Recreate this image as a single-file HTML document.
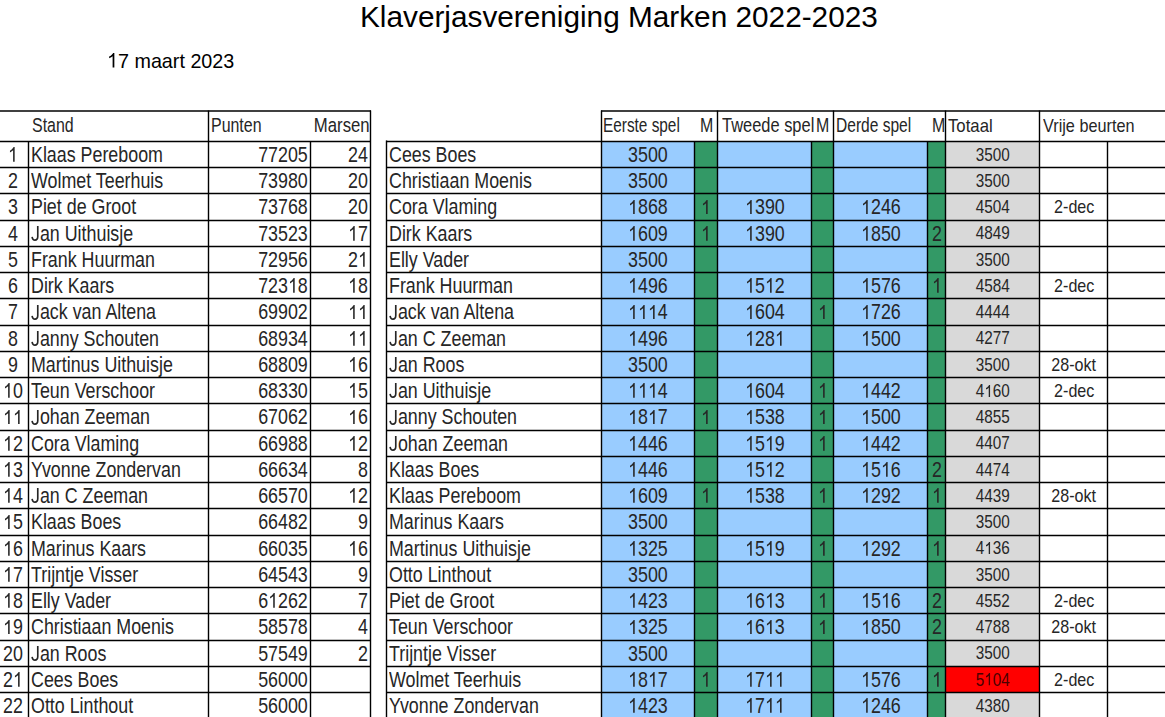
<!DOCTYPE html>
<html><head><meta charset="utf-8"><style>
html,body{margin:0;padding:0;background:#fff;width:1165px;height:717px;overflow:hidden;position:relative}
body div,body span{position:absolute}
.t,.c{font-family:"Liberation Sans",sans-serif;color:#262626;white-space:nowrap}
.c{text-align:center}
.c span{position:static!important}
.o{display:inline-block;width:0.5562em;height:0.688em;vertical-align:baseline;fill:currentColor}
.j{display:inline-block;width:0.5em;height:0.688em;vertical-align:baseline;fill:currentColor;overflow:visible}
</style></head><body>
<svg width="1165" height="717" viewBox="0 0 1165 717" style="position:absolute;left:0;top:0"><rect x="601.50" y="141.50" width="93.00" height="578.50" fill="#99CCFF"/><rect x="694.50" y="141.50" width="23.00" height="578.50" fill="#339966"/><rect x="717.50" y="141.50" width="94.00" height="578.50" fill="#99CCFF"/><rect x="811.50" y="141.50" width="22.00" height="578.50" fill="#339966"/><rect x="833.50" y="141.50" width="94.00" height="578.50" fill="#99CCFF"/><rect x="927.50" y="141.50" width="18.00" height="578.50" fill="#339966"/><rect x="945.50" y="141.50" width="94.00" height="578.50" fill="#D9D9D9"/><rect x="945.50" y="666.50" width="94.00" height="26.00" fill="#FF0000"/><g stroke="#000" stroke-width="1.4" fill="none"><path d="M0.00 111.00H371.00"/><path d="M0.00 141.50H371.00"/><path d="M0.00 167.50H371.00"/><path d="M0.00 193.50H371.00"/><path d="M0.00 220.50H371.00"/><path d="M0.00 246.50H371.00"/><path d="M0.00 272.50H371.00"/><path d="M0.00 298.50H371.00"/><path d="M0.00 325.50H371.00"/><path d="M0.00 351.50H371.00"/><path d="M0.00 377.50H371.00"/><path d="M0.00 403.50H371.00"/><path d="M0.00 430.50H371.00"/><path d="M0.00 456.50H371.00"/><path d="M0.00 482.50H371.00"/><path d="M0.00 508.50H371.00"/><path d="M0.00 535.50H371.00"/><path d="M0.00 561.50H371.00"/><path d="M0.00 587.50H371.00"/><path d="M0.00 613.50H371.00"/><path d="M0.00 640.50H371.00"/><path d="M0.00 666.50H371.00"/><path d="M0.00 692.50H371.00"/><path d="M0.00 718.50H371.00"/><path d="M208.50 110.50V720.00"/><path d="M370.50 110.50V720.00"/><path d="M28.50 140.90V720.00"/><path d="M310.50 140.90V720.00"/><path d="M386.00 141.50H601.50"/><path d="M386.00 167.50H601.50"/><path d="M386.00 193.50H601.50"/><path d="M386.00 220.50H601.50"/><path d="M386.00 246.50H601.50"/><path d="M386.00 272.50H601.50"/><path d="M386.00 298.50H601.50"/><path d="M386.00 325.50H601.50"/><path d="M386.00 351.50H601.50"/><path d="M386.00 377.50H601.50"/><path d="M386.00 403.50H601.50"/><path d="M386.00 430.50H601.50"/><path d="M386.00 456.50H601.50"/><path d="M386.00 482.50H601.50"/><path d="M386.00 508.50H601.50"/><path d="M386.00 535.50H601.50"/><path d="M386.00 561.50H601.50"/><path d="M386.00 587.50H601.50"/><path d="M386.00 613.50H601.50"/><path d="M386.00 640.50H601.50"/><path d="M386.00 666.50H601.50"/><path d="M386.00 692.50H601.50"/><path d="M386.00 718.50H601.50"/><path d="M386.50 140.40V720.00"/><path d="M601.00 111.00H1166.00"/><path d="M601.50 141.50H1166.00"/><path d="M601.50 167.50H1166.00"/><path d="M601.50 193.50H1166.00"/><path d="M601.50 220.50H1166.00"/><path d="M601.50 246.50H1166.00"/><path d="M601.50 272.50H1166.00"/><path d="M601.50 298.50H1166.00"/><path d="M601.50 325.50H1166.00"/><path d="M601.50 351.50H1166.00"/><path d="M601.50 377.50H1166.00"/><path d="M601.50 403.50H1166.00"/><path d="M601.50 430.50H1166.00"/><path d="M601.50 456.50H1166.00"/><path d="M601.50 482.50H1166.00"/><path d="M601.50 508.50H1166.00"/><path d="M601.50 535.50H1166.00"/><path d="M601.50 561.50H1166.00"/><path d="M601.50 587.50H1166.00"/><path d="M601.50 613.50H1166.00"/><path d="M601.50 640.50H1166.00"/><path d="M601.50 666.50H1166.00"/><path d="M601.50 692.50H1166.00"/><path d="M601.50 718.50H1166.00"/><path d="M601.50 110.50V720.00"/><path d="M717.50 110.50V720.00"/><path d="M833.50 110.50V720.00"/><path d="M945.50 110.50V720.00"/><path d="M1039.50 110.50V720.00"/><path d="M694.50 140.90V720.00"/><path d="M811.50 140.90V720.00"/><path d="M927.50 140.90V720.00"/><path d="M1107.50 140.90V720.00"/></g></svg>
<span class="t" style="left:360.0px;top:-0.45px;font-size:30.0px;line-height:34.50px;transform:scaleX(0.992);transform-origin:0 0;color:#000">Klaverjasvereniging Marken 2022-2023</span>
<span class="t" style="left:107.0px;top:48.84px;font-size:21.0px;line-height:24.15px;transform:scaleX(0.94);transform-origin:0 0;color:#000"><svg class="o" viewBox="0 0 1139 1409"><path d="M763 1409H583V311Q470 410 223 519V352Q400 270 520 140Q590 60 644 0H763Z"/></svg>7 maart 2023</span>
<span class="t" style="left:31.5px;top:114.07px;font-size:19.7px;line-height:22.65px;transform:scaleX(0.81);transform-origin:0 0">Stand</span>
<span class="t" style="left:211.1px;top:114.07px;font-size:19.7px;line-height:22.65px;transform:scaleX(0.81);transform-origin:0 0">Punten</span>
<span class="t" style="right:795.8px;top:114.07px;font-size:19.7px;line-height:22.65px;transform:scaleX(0.85);transform-origin:100% 0">Marsen</span>
<span class="t" style="left:603.2px;top:114.07px;font-size:19.7px;line-height:22.65px;transform:scaleX(0.78);transform-origin:0 0">Eerste spel</span>
<span class="t" style="right:451.70000000000005px;top:114.07px;font-size:19.7px;line-height:22.65px;transform:scaleX(0.81);transform-origin:100% 0">M</span>
<span class="t" style="left:721.6px;top:114.07px;font-size:19.7px;line-height:22.65px;transform:scaleX(0.835);transform-origin:0 0">Tweede spel</span>
<span class="t" style="right:335.70000000000005px;top:114.07px;font-size:19.7px;line-height:22.65px;transform:scaleX(0.81);transform-origin:100% 0">M</span>
<span class="t" style="left:836.3px;top:114.07px;font-size:19.7px;line-height:22.65px;transform:scaleX(0.79);transform-origin:0 0">Derde spel</span>
<span class="t" style="right:219.70000000000005px;top:114.07px;font-size:19.7px;line-height:22.65px;transform:scaleX(0.81);transform-origin:100% 0">M</span>
<span class="t" style="left:948.4px;top:116.33px;font-size:18.2px;line-height:20.93px;transform:scaleX(0.92);transform-origin:0 0">Totaal</span>
<span class="t" style="left:1043.0px;top:116.33px;font-size:18.2px;line-height:20.93px;transform:scaleX(0.893);transform-origin:0 0">Vrije beurten</span>
<div class="c" style="left:0px;top:142.94px;width:25px;font-size:21.5px;line-height:24.72px"><span style="display:inline-block;transform:scaleX(0.83)"><svg class="o" viewBox="0 0 1139 1409"><path d="M763 1409H583V311Q470 410 223 519V352Q400 270 520 140Q590 60 644 0H763Z"/></svg></span></div>
<span class="t" style="left:30.8px;top:142.94px;font-size:21.5px;line-height:24.72px;transform:scaleX(0.83);transform-origin:0 0">Klaas Pereboom</span>
<span class="t" style="right:857.0px;top:142.94px;font-size:21.5px;line-height:24.72px;transform:scaleX(0.83);transform-origin:100% 0">77205</span>
<span class="t" style="right:797.2px;top:142.94px;font-size:21.5px;line-height:24.72px;transform:scaleX(0.83);transform-origin:100% 0">24</span>
<div class="c" style="left:0px;top:169.19px;width:25px;font-size:21.5px;line-height:24.72px"><span style="display:inline-block;transform:scaleX(0.83)">2</span></div>
<span class="t" style="left:30.8px;top:169.19px;font-size:21.5px;line-height:24.72px;transform:scaleX(0.83);transform-origin:0 0">Wolmet Teerhuis</span>
<span class="t" style="right:857.0px;top:169.19px;font-size:21.5px;line-height:24.72px;transform:scaleX(0.83);transform-origin:100% 0">73980</span>
<span class="t" style="right:797.2px;top:169.19px;font-size:21.5px;line-height:24.72px;transform:scaleX(0.83);transform-origin:100% 0">20</span>
<div class="c" style="left:0px;top:195.44px;width:25px;font-size:21.5px;line-height:24.72px"><span style="display:inline-block;transform:scaleX(0.83)">3</span></div>
<span class="t" style="left:30.8px;top:195.44px;font-size:21.5px;line-height:24.72px;transform:scaleX(0.83);transform-origin:0 0">Piet de Groot</span>
<span class="t" style="right:857.0px;top:195.44px;font-size:21.5px;line-height:24.72px;transform:scaleX(0.83);transform-origin:100% 0">73768</span>
<span class="t" style="right:797.2px;top:195.44px;font-size:21.5px;line-height:24.72px;transform:scaleX(0.83);transform-origin:100% 0">20</span>
<div class="c" style="left:0px;top:221.69px;width:25px;font-size:21.5px;line-height:24.72px"><span style="display:inline-block;transform:scaleX(0.83)">4</span></div>
<span class="t" style="left:30.8px;top:221.69px;font-size:21.5px;line-height:24.72px;transform:scaleX(0.83);transform-origin:0 0"><svg class="j" viewBox="0 0 1024 1409"><path d="M457 1429Q99 1429 32 1059L219 1028Q237 1144 300 1209Q363 1274 458 1274Q562 1274 622 1202.5Q682 1131 682 993L682 0L872 0L872 989Q872 1194 761 1311.5Q650 1429 457 1429Z"/></svg>an Uithuisje</span>
<span class="t" style="right:857.0px;top:221.69px;font-size:21.5px;line-height:24.72px;transform:scaleX(0.83);transform-origin:100% 0">73523</span>
<span class="t" style="right:797.2px;top:221.69px;font-size:21.5px;line-height:24.72px;transform:scaleX(0.83);transform-origin:100% 0"><svg class="o" viewBox="0 0 1139 1409"><path d="M763 1409H583V311Q470 410 223 519V352Q400 270 520 140Q590 60 644 0H763Z"/></svg>7</span>
<div class="c" style="left:0px;top:247.94px;width:25px;font-size:21.5px;line-height:24.72px"><span style="display:inline-block;transform:scaleX(0.83)">5</span></div>
<span class="t" style="left:30.8px;top:247.94px;font-size:21.5px;line-height:24.72px;transform:scaleX(0.83);transform-origin:0 0">Frank Huurman</span>
<span class="t" style="right:857.0px;top:247.94px;font-size:21.5px;line-height:24.72px;transform:scaleX(0.83);transform-origin:100% 0">72956</span>
<span class="t" style="right:797.2px;top:247.94px;font-size:21.5px;line-height:24.72px;transform:scaleX(0.83);transform-origin:100% 0">2<svg class="o" viewBox="0 0 1139 1409"><path d="M763 1409H583V311Q470 410 223 519V352Q400 270 520 140Q590 60 644 0H763Z"/></svg></span>
<div class="c" style="left:0px;top:274.19px;width:25px;font-size:21.5px;line-height:24.72px"><span style="display:inline-block;transform:scaleX(0.83)">6</span></div>
<span class="t" style="left:30.8px;top:274.19px;font-size:21.5px;line-height:24.72px;transform:scaleX(0.83);transform-origin:0 0">Dirk Kaars</span>
<span class="t" style="right:857.0px;top:274.19px;font-size:21.5px;line-height:24.72px;transform:scaleX(0.83);transform-origin:100% 0">723<svg class="o" viewBox="0 0 1139 1409"><path d="M763 1409H583V311Q470 410 223 519V352Q400 270 520 140Q590 60 644 0H763Z"/></svg>8</span>
<span class="t" style="right:797.2px;top:274.19px;font-size:21.5px;line-height:24.72px;transform:scaleX(0.83);transform-origin:100% 0"><svg class="o" viewBox="0 0 1139 1409"><path d="M763 1409H583V311Q470 410 223 519V352Q400 270 520 140Q590 60 644 0H763Z"/></svg>8</span>
<div class="c" style="left:0px;top:300.44px;width:25px;font-size:21.5px;line-height:24.72px"><span style="display:inline-block;transform:scaleX(0.83)">7</span></div>
<span class="t" style="left:30.8px;top:300.44px;font-size:21.5px;line-height:24.72px;transform:scaleX(0.83);transform-origin:0 0"><svg class="j" viewBox="0 0 1024 1409"><path d="M457 1429Q99 1429 32 1059L219 1028Q237 1144 300 1209Q363 1274 458 1274Q562 1274 622 1202.5Q682 1131 682 993L682 0L872 0L872 989Q872 1194 761 1311.5Q650 1429 457 1429Z"/></svg>ack van Altena</span>
<span class="t" style="right:857.0px;top:300.44px;font-size:21.5px;line-height:24.72px;transform:scaleX(0.83);transform-origin:100% 0">69902</span>
<span class="t" style="right:797.2px;top:300.44px;font-size:21.5px;line-height:24.72px;transform:scaleX(0.83);transform-origin:100% 0"><svg class="o" viewBox="0 0 1139 1409"><path d="M763 1409H583V311Q470 410 223 519V352Q400 270 520 140Q590 60 644 0H763Z"/></svg><svg class="o" viewBox="0 0 1139 1409"><path d="M763 1409H583V311Q470 410 223 519V352Q400 270 520 140Q590 60 644 0H763Z"/></svg></span>
<div class="c" style="left:0px;top:326.69px;width:25px;font-size:21.5px;line-height:24.72px"><span style="display:inline-block;transform:scaleX(0.83)">8</span></div>
<span class="t" style="left:30.8px;top:326.69px;font-size:21.5px;line-height:24.72px;transform:scaleX(0.83);transform-origin:0 0"><svg class="j" viewBox="0 0 1024 1409"><path d="M457 1429Q99 1429 32 1059L219 1028Q237 1144 300 1209Q363 1274 458 1274Q562 1274 622 1202.5Q682 1131 682 993L682 0L872 0L872 989Q872 1194 761 1311.5Q650 1429 457 1429Z"/></svg>anny Schouten</span>
<span class="t" style="right:857.0px;top:326.69px;font-size:21.5px;line-height:24.72px;transform:scaleX(0.83);transform-origin:100% 0">68934</span>
<span class="t" style="right:797.2px;top:326.69px;font-size:21.5px;line-height:24.72px;transform:scaleX(0.83);transform-origin:100% 0"><svg class="o" viewBox="0 0 1139 1409"><path d="M763 1409H583V311Q470 410 223 519V352Q400 270 520 140Q590 60 644 0H763Z"/></svg><svg class="o" viewBox="0 0 1139 1409"><path d="M763 1409H583V311Q470 410 223 519V352Q400 270 520 140Q590 60 644 0H763Z"/></svg></span>
<div class="c" style="left:0px;top:352.94px;width:25px;font-size:21.5px;line-height:24.72px"><span style="display:inline-block;transform:scaleX(0.83)">9</span></div>
<span class="t" style="left:30.8px;top:352.94px;font-size:21.5px;line-height:24.72px;transform:scaleX(0.83);transform-origin:0 0">Martinus Uithuisje</span>
<span class="t" style="right:857.0px;top:352.94px;font-size:21.5px;line-height:24.72px;transform:scaleX(0.83);transform-origin:100% 0">68809</span>
<span class="t" style="right:797.2px;top:352.94px;font-size:21.5px;line-height:24.72px;transform:scaleX(0.83);transform-origin:100% 0"><svg class="o" viewBox="0 0 1139 1409"><path d="M763 1409H583V311Q470 410 223 519V352Q400 270 520 140Q590 60 644 0H763Z"/></svg>6</span>
<div class="c" style="left:0px;top:379.19px;width:25px;font-size:21.5px;line-height:24.72px"><span style="display:inline-block;transform:scaleX(0.83)"><svg class="o" viewBox="0 0 1139 1409"><path d="M763 1409H583V311Q470 410 223 519V352Q400 270 520 140Q590 60 644 0H763Z"/></svg>0</span></div>
<span class="t" style="left:30.8px;top:379.19px;font-size:21.5px;line-height:24.72px;transform:scaleX(0.83);transform-origin:0 0">Teun Verschoor</span>
<span class="t" style="right:857.0px;top:379.19px;font-size:21.5px;line-height:24.72px;transform:scaleX(0.83);transform-origin:100% 0">68330</span>
<span class="t" style="right:797.2px;top:379.19px;font-size:21.5px;line-height:24.72px;transform:scaleX(0.83);transform-origin:100% 0"><svg class="o" viewBox="0 0 1139 1409"><path d="M763 1409H583V311Q470 410 223 519V352Q400 270 520 140Q590 60 644 0H763Z"/></svg>5</span>
<div class="c" style="left:0px;top:405.44px;width:25px;font-size:21.5px;line-height:24.72px"><span style="display:inline-block;transform:scaleX(0.83)"><svg class="o" viewBox="0 0 1139 1409"><path d="M763 1409H583V311Q470 410 223 519V352Q400 270 520 140Q590 60 644 0H763Z"/></svg><svg class="o" viewBox="0 0 1139 1409"><path d="M763 1409H583V311Q470 410 223 519V352Q400 270 520 140Q590 60 644 0H763Z"/></svg></span></div>
<span class="t" style="left:30.8px;top:405.44px;font-size:21.5px;line-height:24.72px;transform:scaleX(0.83);transform-origin:0 0"><svg class="j" viewBox="0 0 1024 1409"><path d="M457 1429Q99 1429 32 1059L219 1028Q237 1144 300 1209Q363 1274 458 1274Q562 1274 622 1202.5Q682 1131 682 993L682 0L872 0L872 989Q872 1194 761 1311.5Q650 1429 457 1429Z"/></svg>ohan Zeeman</span>
<span class="t" style="right:857.0px;top:405.44px;font-size:21.5px;line-height:24.72px;transform:scaleX(0.83);transform-origin:100% 0">67062</span>
<span class="t" style="right:797.2px;top:405.44px;font-size:21.5px;line-height:24.72px;transform:scaleX(0.83);transform-origin:100% 0"><svg class="o" viewBox="0 0 1139 1409"><path d="M763 1409H583V311Q470 410 223 519V352Q400 270 520 140Q590 60 644 0H763Z"/></svg>6</span>
<div class="c" style="left:0px;top:431.69px;width:25px;font-size:21.5px;line-height:24.72px"><span style="display:inline-block;transform:scaleX(0.83)"><svg class="o" viewBox="0 0 1139 1409"><path d="M763 1409H583V311Q470 410 223 519V352Q400 270 520 140Q590 60 644 0H763Z"/></svg>2</span></div>
<span class="t" style="left:30.8px;top:431.69px;font-size:21.5px;line-height:24.72px;transform:scaleX(0.83);transform-origin:0 0">Cora Vlaming</span>
<span class="t" style="right:857.0px;top:431.69px;font-size:21.5px;line-height:24.72px;transform:scaleX(0.83);transform-origin:100% 0">66988</span>
<span class="t" style="right:797.2px;top:431.69px;font-size:21.5px;line-height:24.72px;transform:scaleX(0.83);transform-origin:100% 0"><svg class="o" viewBox="0 0 1139 1409"><path d="M763 1409H583V311Q470 410 223 519V352Q400 270 520 140Q590 60 644 0H763Z"/></svg>2</span>
<div class="c" style="left:0px;top:457.94px;width:25px;font-size:21.5px;line-height:24.72px"><span style="display:inline-block;transform:scaleX(0.83)"><svg class="o" viewBox="0 0 1139 1409"><path d="M763 1409H583V311Q470 410 223 519V352Q400 270 520 140Q590 60 644 0H763Z"/></svg>3</span></div>
<span class="t" style="left:30.8px;top:457.94px;font-size:21.5px;line-height:24.72px;transform:scaleX(0.83);transform-origin:0 0">Yvonne Zondervan</span>
<span class="t" style="right:857.0px;top:457.94px;font-size:21.5px;line-height:24.72px;transform:scaleX(0.83);transform-origin:100% 0">66634</span>
<span class="t" style="right:797.2px;top:457.94px;font-size:21.5px;line-height:24.72px;transform:scaleX(0.83);transform-origin:100% 0">8</span>
<div class="c" style="left:0px;top:484.19px;width:25px;font-size:21.5px;line-height:24.72px"><span style="display:inline-block;transform:scaleX(0.83)"><svg class="o" viewBox="0 0 1139 1409"><path d="M763 1409H583V311Q470 410 223 519V352Q400 270 520 140Q590 60 644 0H763Z"/></svg>4</span></div>
<span class="t" style="left:30.8px;top:484.19px;font-size:21.5px;line-height:24.72px;transform:scaleX(0.83);transform-origin:0 0"><svg class="j" viewBox="0 0 1024 1409"><path d="M457 1429Q99 1429 32 1059L219 1028Q237 1144 300 1209Q363 1274 458 1274Q562 1274 622 1202.5Q682 1131 682 993L682 0L872 0L872 989Q872 1194 761 1311.5Q650 1429 457 1429Z"/></svg>an C Zeeman</span>
<span class="t" style="right:857.0px;top:484.19px;font-size:21.5px;line-height:24.72px;transform:scaleX(0.83);transform-origin:100% 0">66570</span>
<span class="t" style="right:797.2px;top:484.19px;font-size:21.5px;line-height:24.72px;transform:scaleX(0.83);transform-origin:100% 0"><svg class="o" viewBox="0 0 1139 1409"><path d="M763 1409H583V311Q470 410 223 519V352Q400 270 520 140Q590 60 644 0H763Z"/></svg>2</span>
<div class="c" style="left:0px;top:510.44px;width:25px;font-size:21.5px;line-height:24.72px"><span style="display:inline-block;transform:scaleX(0.83)"><svg class="o" viewBox="0 0 1139 1409"><path d="M763 1409H583V311Q470 410 223 519V352Q400 270 520 140Q590 60 644 0H763Z"/></svg>5</span></div>
<span class="t" style="left:30.8px;top:510.44px;font-size:21.5px;line-height:24.72px;transform:scaleX(0.83);transform-origin:0 0">Klaas Boes</span>
<span class="t" style="right:857.0px;top:510.44px;font-size:21.5px;line-height:24.72px;transform:scaleX(0.83);transform-origin:100% 0">66482</span>
<span class="t" style="right:797.2px;top:510.44px;font-size:21.5px;line-height:24.72px;transform:scaleX(0.83);transform-origin:100% 0">9</span>
<div class="c" style="left:0px;top:536.69px;width:25px;font-size:21.5px;line-height:24.72px"><span style="display:inline-block;transform:scaleX(0.83)"><svg class="o" viewBox="0 0 1139 1409"><path d="M763 1409H583V311Q470 410 223 519V352Q400 270 520 140Q590 60 644 0H763Z"/></svg>6</span></div>
<span class="t" style="left:30.8px;top:536.69px;font-size:21.5px;line-height:24.72px;transform:scaleX(0.83);transform-origin:0 0">Marinus Kaars</span>
<span class="t" style="right:857.0px;top:536.69px;font-size:21.5px;line-height:24.72px;transform:scaleX(0.83);transform-origin:100% 0">66035</span>
<span class="t" style="right:797.2px;top:536.69px;font-size:21.5px;line-height:24.72px;transform:scaleX(0.83);transform-origin:100% 0"><svg class="o" viewBox="0 0 1139 1409"><path d="M763 1409H583V311Q470 410 223 519V352Q400 270 520 140Q590 60 644 0H763Z"/></svg>6</span>
<div class="c" style="left:0px;top:562.94px;width:25px;font-size:21.5px;line-height:24.72px"><span style="display:inline-block;transform:scaleX(0.83)"><svg class="o" viewBox="0 0 1139 1409"><path d="M763 1409H583V311Q470 410 223 519V352Q400 270 520 140Q590 60 644 0H763Z"/></svg>7</span></div>
<span class="t" style="left:30.8px;top:562.94px;font-size:21.5px;line-height:24.72px;transform:scaleX(0.83);transform-origin:0 0">Trijntje Visser</span>
<span class="t" style="right:857.0px;top:562.94px;font-size:21.5px;line-height:24.72px;transform:scaleX(0.83);transform-origin:100% 0">64543</span>
<span class="t" style="right:797.2px;top:562.94px;font-size:21.5px;line-height:24.72px;transform:scaleX(0.83);transform-origin:100% 0">9</span>
<div class="c" style="left:0px;top:589.19px;width:25px;font-size:21.5px;line-height:24.72px"><span style="display:inline-block;transform:scaleX(0.83)"><svg class="o" viewBox="0 0 1139 1409"><path d="M763 1409H583V311Q470 410 223 519V352Q400 270 520 140Q590 60 644 0H763Z"/></svg>8</span></div>
<span class="t" style="left:30.8px;top:589.19px;font-size:21.5px;line-height:24.72px;transform:scaleX(0.83);transform-origin:0 0">Elly Vader</span>
<span class="t" style="right:857.0px;top:589.19px;font-size:21.5px;line-height:24.72px;transform:scaleX(0.83);transform-origin:100% 0">6<svg class="o" viewBox="0 0 1139 1409"><path d="M763 1409H583V311Q470 410 223 519V352Q400 270 520 140Q590 60 644 0H763Z"/></svg>262</span>
<span class="t" style="right:797.2px;top:589.19px;font-size:21.5px;line-height:24.72px;transform:scaleX(0.83);transform-origin:100% 0">7</span>
<div class="c" style="left:0px;top:615.44px;width:25px;font-size:21.5px;line-height:24.72px"><span style="display:inline-block;transform:scaleX(0.83)"><svg class="o" viewBox="0 0 1139 1409"><path d="M763 1409H583V311Q470 410 223 519V352Q400 270 520 140Q590 60 644 0H763Z"/></svg>9</span></div>
<span class="t" style="left:30.8px;top:615.44px;font-size:21.5px;line-height:24.72px;transform:scaleX(0.83);transform-origin:0 0">Christiaan Moenis</span>
<span class="t" style="right:857.0px;top:615.44px;font-size:21.5px;line-height:24.72px;transform:scaleX(0.83);transform-origin:100% 0">58578</span>
<span class="t" style="right:797.2px;top:615.44px;font-size:21.5px;line-height:24.72px;transform:scaleX(0.83);transform-origin:100% 0">4</span>
<div class="c" style="left:0px;top:641.69px;width:25px;font-size:21.5px;line-height:24.72px"><span style="display:inline-block;transform:scaleX(0.83)">20</span></div>
<span class="t" style="left:30.8px;top:641.69px;font-size:21.5px;line-height:24.72px;transform:scaleX(0.83);transform-origin:0 0"><svg class="j" viewBox="0 0 1024 1409"><path d="M457 1429Q99 1429 32 1059L219 1028Q237 1144 300 1209Q363 1274 458 1274Q562 1274 622 1202.5Q682 1131 682 993L682 0L872 0L872 989Q872 1194 761 1311.5Q650 1429 457 1429Z"/></svg>an Roos</span>
<span class="t" style="right:857.0px;top:641.69px;font-size:21.5px;line-height:24.72px;transform:scaleX(0.83);transform-origin:100% 0">57549</span>
<span class="t" style="right:797.2px;top:641.69px;font-size:21.5px;line-height:24.72px;transform:scaleX(0.83);transform-origin:100% 0">2</span>
<div class="c" style="left:0px;top:667.94px;width:25px;font-size:21.5px;line-height:24.72px"><span style="display:inline-block;transform:scaleX(0.83)">2<svg class="o" viewBox="0 0 1139 1409"><path d="M763 1409H583V311Q470 410 223 519V352Q400 270 520 140Q590 60 644 0H763Z"/></svg></span></div>
<span class="t" style="left:30.8px;top:667.94px;font-size:21.5px;line-height:24.72px;transform:scaleX(0.83);transform-origin:0 0">Cees Boes</span>
<span class="t" style="right:857.0px;top:667.94px;font-size:21.5px;line-height:24.72px;transform:scaleX(0.83);transform-origin:100% 0">56000</span>
<span class="t" style="right:797.2px;top:667.94px;font-size:21.5px;line-height:24.72px;transform:scaleX(0.83);transform-origin:100% 0"></span>
<div class="c" style="left:0px;top:694.19px;width:25px;font-size:21.5px;line-height:24.72px"><span style="display:inline-block;transform:scaleX(0.83)">22</span></div>
<span class="t" style="left:30.8px;top:694.19px;font-size:21.5px;line-height:24.72px;transform:scaleX(0.83);transform-origin:0 0">Otto Linthout</span>
<span class="t" style="right:857.0px;top:694.19px;font-size:21.5px;line-height:24.72px;transform:scaleX(0.83);transform-origin:100% 0">56000</span>
<span class="t" style="right:797.2px;top:694.19px;font-size:21.5px;line-height:24.72px;transform:scaleX(0.83);transform-origin:100% 0"></span>
<span class="t" style="left:388.8px;top:142.94px;font-size:21.5px;line-height:24.72px;transform:scaleX(0.83);transform-origin:0 0">Cees Boes</span>
<div class="c" style="left:601px;top:142.94px;width:94px;font-size:21.5px;line-height:24.72px"><span style="display:inline-block;transform:scaleX(0.83)">3500</span></div>
<div class="c" style="left:946px;top:144.69px;width:94px;font-size:17.8px;line-height:20.47px"><span style="display:inline-block;transform:scaleX(0.86)">3500</span></div>
<span class="t" style="left:388.8px;top:169.19px;font-size:21.5px;line-height:24.72px;transform:scaleX(0.83);transform-origin:0 0">Christiaan Moenis</span>
<div class="c" style="left:601px;top:169.19px;width:94px;font-size:21.5px;line-height:24.72px"><span style="display:inline-block;transform:scaleX(0.83)">3500</span></div>
<div class="c" style="left:946px;top:170.94px;width:94px;font-size:17.8px;line-height:20.47px"><span style="display:inline-block;transform:scaleX(0.86)">3500</span></div>
<span class="t" style="left:388.8px;top:195.44px;font-size:21.5px;line-height:24.72px;transform:scaleX(0.83);transform-origin:0 0">Cora Vlaming</span>
<div class="c" style="left:601px;top:195.44px;width:94px;font-size:21.5px;line-height:24.72px"><span style="display:inline-block;transform:scaleX(0.83)"><svg class="o" viewBox="0 0 1139 1409"><path d="M763 1409H583V311Q470 410 223 519V352Q400 270 520 140Q590 60 644 0H763Z"/></svg>868</span></div>
<div class="c" style="left:694px;top:195.44px;width:24px;font-size:21.5px;line-height:24.72px"><span style="display:inline-block;transform:scaleX(0.83)"><svg class="o" viewBox="0 0 1139 1409"><path d="M763 1409H583V311Q470 410 223 519V352Q400 270 520 140Q590 60 644 0H763Z"/></svg></span></div>
<div class="c" style="left:717px;top:195.44px;width:95px;font-size:21.5px;line-height:24.72px"><span style="display:inline-block;transform:scaleX(0.83)"><svg class="o" viewBox="0 0 1139 1409"><path d="M763 1409H583V311Q470 410 223 519V352Q400 270 520 140Q590 60 644 0H763Z"/></svg>390</span></div>
<div class="c" style="left:833px;top:195.44px;width:95px;font-size:21.5px;line-height:24.72px"><span style="display:inline-block;transform:scaleX(0.83)"><svg class="o" viewBox="0 0 1139 1409"><path d="M763 1409H583V311Q470 410 223 519V352Q400 270 520 140Q590 60 644 0H763Z"/></svg>246</span></div>
<div class="c" style="left:946px;top:197.19px;width:94px;font-size:17.8px;line-height:20.47px"><span style="display:inline-block;transform:scaleX(0.86)">4504</span></div>
<div class="c" style="left:1040px;top:197.19px;width:68px;font-size:17.8px;line-height:20.47px"><span style="display:inline-block;transform:scaleX(0.905)">2-dec</span></div>
<span class="t" style="left:388.8px;top:221.69px;font-size:21.5px;line-height:24.72px;transform:scaleX(0.83);transform-origin:0 0">Dirk Kaars</span>
<div class="c" style="left:601px;top:221.69px;width:94px;font-size:21.5px;line-height:24.72px"><span style="display:inline-block;transform:scaleX(0.83)"><svg class="o" viewBox="0 0 1139 1409"><path d="M763 1409H583V311Q470 410 223 519V352Q400 270 520 140Q590 60 644 0H763Z"/></svg>609</span></div>
<div class="c" style="left:694px;top:221.69px;width:24px;font-size:21.5px;line-height:24.72px"><span style="display:inline-block;transform:scaleX(0.83)"><svg class="o" viewBox="0 0 1139 1409"><path d="M763 1409H583V311Q470 410 223 519V352Q400 270 520 140Q590 60 644 0H763Z"/></svg></span></div>
<div class="c" style="left:717px;top:221.69px;width:95px;font-size:21.5px;line-height:24.72px"><span style="display:inline-block;transform:scaleX(0.83)"><svg class="o" viewBox="0 0 1139 1409"><path d="M763 1409H583V311Q470 410 223 519V352Q400 270 520 140Q590 60 644 0H763Z"/></svg>390</span></div>
<div class="c" style="left:833px;top:221.69px;width:95px;font-size:21.5px;line-height:24.72px"><span style="display:inline-block;transform:scaleX(0.83)"><svg class="o" viewBox="0 0 1139 1409"><path d="M763 1409H583V311Q470 410 223 519V352Q400 270 520 140Q590 60 644 0H763Z"/></svg>850</span></div>
<div class="c" style="left:927px;top:221.69px;width:20px;font-size:21.5px;line-height:24.72px"><span style="display:inline-block;transform:scaleX(0.83)">2</span></div>
<div class="c" style="left:946px;top:223.44px;width:94px;font-size:17.8px;line-height:20.47px"><span style="display:inline-block;transform:scaleX(0.86)">4849</span></div>
<span class="t" style="left:388.8px;top:247.94px;font-size:21.5px;line-height:24.72px;transform:scaleX(0.83);transform-origin:0 0">Elly Vader</span>
<div class="c" style="left:601px;top:247.94px;width:94px;font-size:21.5px;line-height:24.72px"><span style="display:inline-block;transform:scaleX(0.83)">3500</span></div>
<div class="c" style="left:946px;top:249.69px;width:94px;font-size:17.8px;line-height:20.47px"><span style="display:inline-block;transform:scaleX(0.86)">3500</span></div>
<span class="t" style="left:388.8px;top:274.19px;font-size:21.5px;line-height:24.72px;transform:scaleX(0.83);transform-origin:0 0">Frank Huurman</span>
<div class="c" style="left:601px;top:274.19px;width:94px;font-size:21.5px;line-height:24.72px"><span style="display:inline-block;transform:scaleX(0.83)"><svg class="o" viewBox="0 0 1139 1409"><path d="M763 1409H583V311Q470 410 223 519V352Q400 270 520 140Q590 60 644 0H763Z"/></svg>496</span></div>
<div class="c" style="left:717px;top:274.19px;width:95px;font-size:21.5px;line-height:24.72px"><span style="display:inline-block;transform:scaleX(0.83)"><svg class="o" viewBox="0 0 1139 1409"><path d="M763 1409H583V311Q470 410 223 519V352Q400 270 520 140Q590 60 644 0H763Z"/></svg>5<svg class="o" viewBox="0 0 1139 1409"><path d="M763 1409H583V311Q470 410 223 519V352Q400 270 520 140Q590 60 644 0H763Z"/></svg>2</span></div>
<div class="c" style="left:833px;top:274.19px;width:95px;font-size:21.5px;line-height:24.72px"><span style="display:inline-block;transform:scaleX(0.83)"><svg class="o" viewBox="0 0 1139 1409"><path d="M763 1409H583V311Q470 410 223 519V352Q400 270 520 140Q590 60 644 0H763Z"/></svg>576</span></div>
<div class="c" style="left:927px;top:274.19px;width:20px;font-size:21.5px;line-height:24.72px"><span style="display:inline-block;transform:scaleX(0.83)"><svg class="o" viewBox="0 0 1139 1409"><path d="M763 1409H583V311Q470 410 223 519V352Q400 270 520 140Q590 60 644 0H763Z"/></svg></span></div>
<div class="c" style="left:946px;top:275.94px;width:94px;font-size:17.8px;line-height:20.47px"><span style="display:inline-block;transform:scaleX(0.86)">4584</span></div>
<div class="c" style="left:1040px;top:275.94px;width:68px;font-size:17.8px;line-height:20.47px"><span style="display:inline-block;transform:scaleX(0.905)">2-dec</span></div>
<span class="t" style="left:388.8px;top:300.44px;font-size:21.5px;line-height:24.72px;transform:scaleX(0.83);transform-origin:0 0"><svg class="j" viewBox="0 0 1024 1409"><path d="M457 1429Q99 1429 32 1059L219 1028Q237 1144 300 1209Q363 1274 458 1274Q562 1274 622 1202.5Q682 1131 682 993L682 0L872 0L872 989Q872 1194 761 1311.5Q650 1429 457 1429Z"/></svg>ack van Altena</span>
<div class="c" style="left:601px;top:300.44px;width:94px;font-size:21.5px;line-height:24.72px"><span style="display:inline-block;transform:scaleX(0.83)"><svg class="o" viewBox="0 0 1139 1409"><path d="M763 1409H583V311Q470 410 223 519V352Q400 270 520 140Q590 60 644 0H763Z"/></svg><svg class="o" viewBox="0 0 1139 1409"><path d="M763 1409H583V311Q470 410 223 519V352Q400 270 520 140Q590 60 644 0H763Z"/></svg><svg class="o" viewBox="0 0 1139 1409"><path d="M763 1409H583V311Q470 410 223 519V352Q400 270 520 140Q590 60 644 0H763Z"/></svg>4</span></div>
<div class="c" style="left:717px;top:300.44px;width:95px;font-size:21.5px;line-height:24.72px"><span style="display:inline-block;transform:scaleX(0.83)"><svg class="o" viewBox="0 0 1139 1409"><path d="M763 1409H583V311Q470 410 223 519V352Q400 270 520 140Q590 60 644 0H763Z"/></svg>604</span></div>
<div class="c" style="left:811px;top:300.44px;width:23px;font-size:21.5px;line-height:24.72px"><span style="display:inline-block;transform:scaleX(0.83)"><svg class="o" viewBox="0 0 1139 1409"><path d="M763 1409H583V311Q470 410 223 519V352Q400 270 520 140Q590 60 644 0H763Z"/></svg></span></div>
<div class="c" style="left:833px;top:300.44px;width:95px;font-size:21.5px;line-height:24.72px"><span style="display:inline-block;transform:scaleX(0.83)"><svg class="o" viewBox="0 0 1139 1409"><path d="M763 1409H583V311Q470 410 223 519V352Q400 270 520 140Q590 60 644 0H763Z"/></svg>726</span></div>
<div class="c" style="left:946px;top:302.19px;width:94px;font-size:17.8px;line-height:20.47px"><span style="display:inline-block;transform:scaleX(0.86)">4444</span></div>
<span class="t" style="left:388.8px;top:326.69px;font-size:21.5px;line-height:24.72px;transform:scaleX(0.83);transform-origin:0 0"><svg class="j" viewBox="0 0 1024 1409"><path d="M457 1429Q99 1429 32 1059L219 1028Q237 1144 300 1209Q363 1274 458 1274Q562 1274 622 1202.5Q682 1131 682 993L682 0L872 0L872 989Q872 1194 761 1311.5Q650 1429 457 1429Z"/></svg>an C Zeeman</span>
<div class="c" style="left:601px;top:326.69px;width:94px;font-size:21.5px;line-height:24.72px"><span style="display:inline-block;transform:scaleX(0.83)"><svg class="o" viewBox="0 0 1139 1409"><path d="M763 1409H583V311Q470 410 223 519V352Q400 270 520 140Q590 60 644 0H763Z"/></svg>496</span></div>
<div class="c" style="left:717px;top:326.69px;width:95px;font-size:21.5px;line-height:24.72px"><span style="display:inline-block;transform:scaleX(0.83)"><svg class="o" viewBox="0 0 1139 1409"><path d="M763 1409H583V311Q470 410 223 519V352Q400 270 520 140Q590 60 644 0H763Z"/></svg>28<svg class="o" viewBox="0 0 1139 1409"><path d="M763 1409H583V311Q470 410 223 519V352Q400 270 520 140Q590 60 644 0H763Z"/></svg></span></div>
<div class="c" style="left:833px;top:326.69px;width:95px;font-size:21.5px;line-height:24.72px"><span style="display:inline-block;transform:scaleX(0.83)"><svg class="o" viewBox="0 0 1139 1409"><path d="M763 1409H583V311Q470 410 223 519V352Q400 270 520 140Q590 60 644 0H763Z"/></svg>500</span></div>
<div class="c" style="left:946px;top:328.44px;width:94px;font-size:17.8px;line-height:20.47px"><span style="display:inline-block;transform:scaleX(0.86)">4277</span></div>
<span class="t" style="left:388.8px;top:352.94px;font-size:21.5px;line-height:24.72px;transform:scaleX(0.83);transform-origin:0 0"><svg class="j" viewBox="0 0 1024 1409"><path d="M457 1429Q99 1429 32 1059L219 1028Q237 1144 300 1209Q363 1274 458 1274Q562 1274 622 1202.5Q682 1131 682 993L682 0L872 0L872 989Q872 1194 761 1311.5Q650 1429 457 1429Z"/></svg>an Roos</span>
<div class="c" style="left:601px;top:352.94px;width:94px;font-size:21.5px;line-height:24.72px"><span style="display:inline-block;transform:scaleX(0.83)">3500</span></div>
<div class="c" style="left:946px;top:354.69px;width:94px;font-size:17.8px;line-height:20.47px"><span style="display:inline-block;transform:scaleX(0.86)">3500</span></div>
<div class="c" style="left:1040px;top:354.69px;width:68px;font-size:17.8px;line-height:20.47px"><span style="display:inline-block;transform:scaleX(0.905)">28-okt</span></div>
<span class="t" style="left:388.8px;top:379.19px;font-size:21.5px;line-height:24.72px;transform:scaleX(0.83);transform-origin:0 0"><svg class="j" viewBox="0 0 1024 1409"><path d="M457 1429Q99 1429 32 1059L219 1028Q237 1144 300 1209Q363 1274 458 1274Q562 1274 622 1202.5Q682 1131 682 993L682 0L872 0L872 989Q872 1194 761 1311.5Q650 1429 457 1429Z"/></svg>an Uithuisje</span>
<div class="c" style="left:601px;top:379.19px;width:94px;font-size:21.5px;line-height:24.72px"><span style="display:inline-block;transform:scaleX(0.83)"><svg class="o" viewBox="0 0 1139 1409"><path d="M763 1409H583V311Q470 410 223 519V352Q400 270 520 140Q590 60 644 0H763Z"/></svg><svg class="o" viewBox="0 0 1139 1409"><path d="M763 1409H583V311Q470 410 223 519V352Q400 270 520 140Q590 60 644 0H763Z"/></svg><svg class="o" viewBox="0 0 1139 1409"><path d="M763 1409H583V311Q470 410 223 519V352Q400 270 520 140Q590 60 644 0H763Z"/></svg>4</span></div>
<div class="c" style="left:717px;top:379.19px;width:95px;font-size:21.5px;line-height:24.72px"><span style="display:inline-block;transform:scaleX(0.83)"><svg class="o" viewBox="0 0 1139 1409"><path d="M763 1409H583V311Q470 410 223 519V352Q400 270 520 140Q590 60 644 0H763Z"/></svg>604</span></div>
<div class="c" style="left:811px;top:379.19px;width:23px;font-size:21.5px;line-height:24.72px"><span style="display:inline-block;transform:scaleX(0.83)"><svg class="o" viewBox="0 0 1139 1409"><path d="M763 1409H583V311Q470 410 223 519V352Q400 270 520 140Q590 60 644 0H763Z"/></svg></span></div>
<div class="c" style="left:833px;top:379.19px;width:95px;font-size:21.5px;line-height:24.72px"><span style="display:inline-block;transform:scaleX(0.83)"><svg class="o" viewBox="0 0 1139 1409"><path d="M763 1409H583V311Q470 410 223 519V352Q400 270 520 140Q590 60 644 0H763Z"/></svg>442</span></div>
<div class="c" style="left:946px;top:380.94px;width:94px;font-size:17.8px;line-height:20.47px"><span style="display:inline-block;transform:scaleX(0.86)">4<svg class="o" viewBox="0 0 1139 1409"><path d="M763 1409H583V311Q470 410 223 519V352Q400 270 520 140Q590 60 644 0H763Z"/></svg>60</span></div>
<div class="c" style="left:1040px;top:380.94px;width:68px;font-size:17.8px;line-height:20.47px"><span style="display:inline-block;transform:scaleX(0.905)">2-dec</span></div>
<span class="t" style="left:388.8px;top:405.44px;font-size:21.5px;line-height:24.72px;transform:scaleX(0.83);transform-origin:0 0"><svg class="j" viewBox="0 0 1024 1409"><path d="M457 1429Q99 1429 32 1059L219 1028Q237 1144 300 1209Q363 1274 458 1274Q562 1274 622 1202.5Q682 1131 682 993L682 0L872 0L872 989Q872 1194 761 1311.5Q650 1429 457 1429Z"/></svg>anny Schouten</span>
<div class="c" style="left:601px;top:405.44px;width:94px;font-size:21.5px;line-height:24.72px"><span style="display:inline-block;transform:scaleX(0.83)"><svg class="o" viewBox="0 0 1139 1409"><path d="M763 1409H583V311Q470 410 223 519V352Q400 270 520 140Q590 60 644 0H763Z"/></svg>8<svg class="o" viewBox="0 0 1139 1409"><path d="M763 1409H583V311Q470 410 223 519V352Q400 270 520 140Q590 60 644 0H763Z"/></svg>7</span></div>
<div class="c" style="left:694px;top:405.44px;width:24px;font-size:21.5px;line-height:24.72px"><span style="display:inline-block;transform:scaleX(0.83)"><svg class="o" viewBox="0 0 1139 1409"><path d="M763 1409H583V311Q470 410 223 519V352Q400 270 520 140Q590 60 644 0H763Z"/></svg></span></div>
<div class="c" style="left:717px;top:405.44px;width:95px;font-size:21.5px;line-height:24.72px"><span style="display:inline-block;transform:scaleX(0.83)"><svg class="o" viewBox="0 0 1139 1409"><path d="M763 1409H583V311Q470 410 223 519V352Q400 270 520 140Q590 60 644 0H763Z"/></svg>538</span></div>
<div class="c" style="left:811px;top:405.44px;width:23px;font-size:21.5px;line-height:24.72px"><span style="display:inline-block;transform:scaleX(0.83)"><svg class="o" viewBox="0 0 1139 1409"><path d="M763 1409H583V311Q470 410 223 519V352Q400 270 520 140Q590 60 644 0H763Z"/></svg></span></div>
<div class="c" style="left:833px;top:405.44px;width:95px;font-size:21.5px;line-height:24.72px"><span style="display:inline-block;transform:scaleX(0.83)"><svg class="o" viewBox="0 0 1139 1409"><path d="M763 1409H583V311Q470 410 223 519V352Q400 270 520 140Q590 60 644 0H763Z"/></svg>500</span></div>
<div class="c" style="left:946px;top:407.19px;width:94px;font-size:17.8px;line-height:20.47px"><span style="display:inline-block;transform:scaleX(0.86)">4855</span></div>
<span class="t" style="left:388.8px;top:431.69px;font-size:21.5px;line-height:24.72px;transform:scaleX(0.83);transform-origin:0 0"><svg class="j" viewBox="0 0 1024 1409"><path d="M457 1429Q99 1429 32 1059L219 1028Q237 1144 300 1209Q363 1274 458 1274Q562 1274 622 1202.5Q682 1131 682 993L682 0L872 0L872 989Q872 1194 761 1311.5Q650 1429 457 1429Z"/></svg>ohan Zeeman</span>
<div class="c" style="left:601px;top:431.69px;width:94px;font-size:21.5px;line-height:24.72px"><span style="display:inline-block;transform:scaleX(0.83)"><svg class="o" viewBox="0 0 1139 1409"><path d="M763 1409H583V311Q470 410 223 519V352Q400 270 520 140Q590 60 644 0H763Z"/></svg>446</span></div>
<div class="c" style="left:717px;top:431.69px;width:95px;font-size:21.5px;line-height:24.72px"><span style="display:inline-block;transform:scaleX(0.83)"><svg class="o" viewBox="0 0 1139 1409"><path d="M763 1409H583V311Q470 410 223 519V352Q400 270 520 140Q590 60 644 0H763Z"/></svg>5<svg class="o" viewBox="0 0 1139 1409"><path d="M763 1409H583V311Q470 410 223 519V352Q400 270 520 140Q590 60 644 0H763Z"/></svg>9</span></div>
<div class="c" style="left:811px;top:431.69px;width:23px;font-size:21.5px;line-height:24.72px"><span style="display:inline-block;transform:scaleX(0.83)"><svg class="o" viewBox="0 0 1139 1409"><path d="M763 1409H583V311Q470 410 223 519V352Q400 270 520 140Q590 60 644 0H763Z"/></svg></span></div>
<div class="c" style="left:833px;top:431.69px;width:95px;font-size:21.5px;line-height:24.72px"><span style="display:inline-block;transform:scaleX(0.83)"><svg class="o" viewBox="0 0 1139 1409"><path d="M763 1409H583V311Q470 410 223 519V352Q400 270 520 140Q590 60 644 0H763Z"/></svg>442</span></div>
<div class="c" style="left:946px;top:433.44px;width:94px;font-size:17.8px;line-height:20.47px"><span style="display:inline-block;transform:scaleX(0.86)">4407</span></div>
<span class="t" style="left:388.8px;top:457.94px;font-size:21.5px;line-height:24.72px;transform:scaleX(0.83);transform-origin:0 0">Klaas Boes</span>
<div class="c" style="left:601px;top:457.94px;width:94px;font-size:21.5px;line-height:24.72px"><span style="display:inline-block;transform:scaleX(0.83)"><svg class="o" viewBox="0 0 1139 1409"><path d="M763 1409H583V311Q470 410 223 519V352Q400 270 520 140Q590 60 644 0H763Z"/></svg>446</span></div>
<div class="c" style="left:717px;top:457.94px;width:95px;font-size:21.5px;line-height:24.72px"><span style="display:inline-block;transform:scaleX(0.83)"><svg class="o" viewBox="0 0 1139 1409"><path d="M763 1409H583V311Q470 410 223 519V352Q400 270 520 140Q590 60 644 0H763Z"/></svg>5<svg class="o" viewBox="0 0 1139 1409"><path d="M763 1409H583V311Q470 410 223 519V352Q400 270 520 140Q590 60 644 0H763Z"/></svg>2</span></div>
<div class="c" style="left:833px;top:457.94px;width:95px;font-size:21.5px;line-height:24.72px"><span style="display:inline-block;transform:scaleX(0.83)"><svg class="o" viewBox="0 0 1139 1409"><path d="M763 1409H583V311Q470 410 223 519V352Q400 270 520 140Q590 60 644 0H763Z"/></svg>5<svg class="o" viewBox="0 0 1139 1409"><path d="M763 1409H583V311Q470 410 223 519V352Q400 270 520 140Q590 60 644 0H763Z"/></svg>6</span></div>
<div class="c" style="left:927px;top:457.94px;width:20px;font-size:21.5px;line-height:24.72px"><span style="display:inline-block;transform:scaleX(0.83)">2</span></div>
<div class="c" style="left:946px;top:459.69px;width:94px;font-size:17.8px;line-height:20.47px"><span style="display:inline-block;transform:scaleX(0.86)">4474</span></div>
<span class="t" style="left:388.8px;top:484.19px;font-size:21.5px;line-height:24.72px;transform:scaleX(0.83);transform-origin:0 0">Klaas Pereboom</span>
<div class="c" style="left:601px;top:484.19px;width:94px;font-size:21.5px;line-height:24.72px"><span style="display:inline-block;transform:scaleX(0.83)"><svg class="o" viewBox="0 0 1139 1409"><path d="M763 1409H583V311Q470 410 223 519V352Q400 270 520 140Q590 60 644 0H763Z"/></svg>609</span></div>
<div class="c" style="left:694px;top:484.19px;width:24px;font-size:21.5px;line-height:24.72px"><span style="display:inline-block;transform:scaleX(0.83)"><svg class="o" viewBox="0 0 1139 1409"><path d="M763 1409H583V311Q470 410 223 519V352Q400 270 520 140Q590 60 644 0H763Z"/></svg></span></div>
<div class="c" style="left:717px;top:484.19px;width:95px;font-size:21.5px;line-height:24.72px"><span style="display:inline-block;transform:scaleX(0.83)"><svg class="o" viewBox="0 0 1139 1409"><path d="M763 1409H583V311Q470 410 223 519V352Q400 270 520 140Q590 60 644 0H763Z"/></svg>538</span></div>
<div class="c" style="left:811px;top:484.19px;width:23px;font-size:21.5px;line-height:24.72px"><span style="display:inline-block;transform:scaleX(0.83)"><svg class="o" viewBox="0 0 1139 1409"><path d="M763 1409H583V311Q470 410 223 519V352Q400 270 520 140Q590 60 644 0H763Z"/></svg></span></div>
<div class="c" style="left:833px;top:484.19px;width:95px;font-size:21.5px;line-height:24.72px"><span style="display:inline-block;transform:scaleX(0.83)"><svg class="o" viewBox="0 0 1139 1409"><path d="M763 1409H583V311Q470 410 223 519V352Q400 270 520 140Q590 60 644 0H763Z"/></svg>292</span></div>
<div class="c" style="left:927px;top:484.19px;width:20px;font-size:21.5px;line-height:24.72px"><span style="display:inline-block;transform:scaleX(0.83)"><svg class="o" viewBox="0 0 1139 1409"><path d="M763 1409H583V311Q470 410 223 519V352Q400 270 520 140Q590 60 644 0H763Z"/></svg></span></div>
<div class="c" style="left:946px;top:485.94px;width:94px;font-size:17.8px;line-height:20.47px"><span style="display:inline-block;transform:scaleX(0.86)">4439</span></div>
<div class="c" style="left:1040px;top:485.94px;width:68px;font-size:17.8px;line-height:20.47px"><span style="display:inline-block;transform:scaleX(0.905)">28-okt</span></div>
<span class="t" style="left:388.8px;top:510.44px;font-size:21.5px;line-height:24.72px;transform:scaleX(0.83);transform-origin:0 0">Marinus Kaars</span>
<div class="c" style="left:601px;top:510.44px;width:94px;font-size:21.5px;line-height:24.72px"><span style="display:inline-block;transform:scaleX(0.83)">3500</span></div>
<div class="c" style="left:946px;top:512.19px;width:94px;font-size:17.8px;line-height:20.47px"><span style="display:inline-block;transform:scaleX(0.86)">3500</span></div>
<span class="t" style="left:388.8px;top:536.69px;font-size:21.5px;line-height:24.72px;transform:scaleX(0.83);transform-origin:0 0">Martinus Uithuisje</span>
<div class="c" style="left:601px;top:536.69px;width:94px;font-size:21.5px;line-height:24.72px"><span style="display:inline-block;transform:scaleX(0.83)"><svg class="o" viewBox="0 0 1139 1409"><path d="M763 1409H583V311Q470 410 223 519V352Q400 270 520 140Q590 60 644 0H763Z"/></svg>325</span></div>
<div class="c" style="left:717px;top:536.69px;width:95px;font-size:21.5px;line-height:24.72px"><span style="display:inline-block;transform:scaleX(0.83)"><svg class="o" viewBox="0 0 1139 1409"><path d="M763 1409H583V311Q470 410 223 519V352Q400 270 520 140Q590 60 644 0H763Z"/></svg>5<svg class="o" viewBox="0 0 1139 1409"><path d="M763 1409H583V311Q470 410 223 519V352Q400 270 520 140Q590 60 644 0H763Z"/></svg>9</span></div>
<div class="c" style="left:811px;top:536.69px;width:23px;font-size:21.5px;line-height:24.72px"><span style="display:inline-block;transform:scaleX(0.83)"><svg class="o" viewBox="0 0 1139 1409"><path d="M763 1409H583V311Q470 410 223 519V352Q400 270 520 140Q590 60 644 0H763Z"/></svg></span></div>
<div class="c" style="left:833px;top:536.69px;width:95px;font-size:21.5px;line-height:24.72px"><span style="display:inline-block;transform:scaleX(0.83)"><svg class="o" viewBox="0 0 1139 1409"><path d="M763 1409H583V311Q470 410 223 519V352Q400 270 520 140Q590 60 644 0H763Z"/></svg>292</span></div>
<div class="c" style="left:927px;top:536.69px;width:20px;font-size:21.5px;line-height:24.72px"><span style="display:inline-block;transform:scaleX(0.83)"><svg class="o" viewBox="0 0 1139 1409"><path d="M763 1409H583V311Q470 410 223 519V352Q400 270 520 140Q590 60 644 0H763Z"/></svg></span></div>
<div class="c" style="left:946px;top:538.44px;width:94px;font-size:17.8px;line-height:20.47px"><span style="display:inline-block;transform:scaleX(0.86)">4<svg class="o" viewBox="0 0 1139 1409"><path d="M763 1409H583V311Q470 410 223 519V352Q400 270 520 140Q590 60 644 0H763Z"/></svg>36</span></div>
<span class="t" style="left:388.8px;top:562.94px;font-size:21.5px;line-height:24.72px;transform:scaleX(0.83);transform-origin:0 0">Otto Linthout</span>
<div class="c" style="left:601px;top:562.94px;width:94px;font-size:21.5px;line-height:24.72px"><span style="display:inline-block;transform:scaleX(0.83)">3500</span></div>
<div class="c" style="left:946px;top:564.69px;width:94px;font-size:17.8px;line-height:20.47px"><span style="display:inline-block;transform:scaleX(0.86)">3500</span></div>
<span class="t" style="left:388.8px;top:589.19px;font-size:21.5px;line-height:24.72px;transform:scaleX(0.83);transform-origin:0 0">Piet de Groot</span>
<div class="c" style="left:601px;top:589.19px;width:94px;font-size:21.5px;line-height:24.72px"><span style="display:inline-block;transform:scaleX(0.83)"><svg class="o" viewBox="0 0 1139 1409"><path d="M763 1409H583V311Q470 410 223 519V352Q400 270 520 140Q590 60 644 0H763Z"/></svg>423</span></div>
<div class="c" style="left:717px;top:589.19px;width:95px;font-size:21.5px;line-height:24.72px"><span style="display:inline-block;transform:scaleX(0.83)"><svg class="o" viewBox="0 0 1139 1409"><path d="M763 1409H583V311Q470 410 223 519V352Q400 270 520 140Q590 60 644 0H763Z"/></svg>6<svg class="o" viewBox="0 0 1139 1409"><path d="M763 1409H583V311Q470 410 223 519V352Q400 270 520 140Q590 60 644 0H763Z"/></svg>3</span></div>
<div class="c" style="left:811px;top:589.19px;width:23px;font-size:21.5px;line-height:24.72px"><span style="display:inline-block;transform:scaleX(0.83)"><svg class="o" viewBox="0 0 1139 1409"><path d="M763 1409H583V311Q470 410 223 519V352Q400 270 520 140Q590 60 644 0H763Z"/></svg></span></div>
<div class="c" style="left:833px;top:589.19px;width:95px;font-size:21.5px;line-height:24.72px"><span style="display:inline-block;transform:scaleX(0.83)"><svg class="o" viewBox="0 0 1139 1409"><path d="M763 1409H583V311Q470 410 223 519V352Q400 270 520 140Q590 60 644 0H763Z"/></svg>5<svg class="o" viewBox="0 0 1139 1409"><path d="M763 1409H583V311Q470 410 223 519V352Q400 270 520 140Q590 60 644 0H763Z"/></svg>6</span></div>
<div class="c" style="left:927px;top:589.19px;width:20px;font-size:21.5px;line-height:24.72px"><span style="display:inline-block;transform:scaleX(0.83)">2</span></div>
<div class="c" style="left:946px;top:590.94px;width:94px;font-size:17.8px;line-height:20.47px"><span style="display:inline-block;transform:scaleX(0.86)">4552</span></div>
<div class="c" style="left:1040px;top:590.94px;width:68px;font-size:17.8px;line-height:20.47px"><span style="display:inline-block;transform:scaleX(0.905)">2-dec</span></div>
<span class="t" style="left:388.8px;top:615.44px;font-size:21.5px;line-height:24.72px;transform:scaleX(0.83);transform-origin:0 0">Teun Verschoor</span>
<div class="c" style="left:601px;top:615.44px;width:94px;font-size:21.5px;line-height:24.72px"><span style="display:inline-block;transform:scaleX(0.83)"><svg class="o" viewBox="0 0 1139 1409"><path d="M763 1409H583V311Q470 410 223 519V352Q400 270 520 140Q590 60 644 0H763Z"/></svg>325</span></div>
<div class="c" style="left:717px;top:615.44px;width:95px;font-size:21.5px;line-height:24.72px"><span style="display:inline-block;transform:scaleX(0.83)"><svg class="o" viewBox="0 0 1139 1409"><path d="M763 1409H583V311Q470 410 223 519V352Q400 270 520 140Q590 60 644 0H763Z"/></svg>6<svg class="o" viewBox="0 0 1139 1409"><path d="M763 1409H583V311Q470 410 223 519V352Q400 270 520 140Q590 60 644 0H763Z"/></svg>3</span></div>
<div class="c" style="left:811px;top:615.44px;width:23px;font-size:21.5px;line-height:24.72px"><span style="display:inline-block;transform:scaleX(0.83)"><svg class="o" viewBox="0 0 1139 1409"><path d="M763 1409H583V311Q470 410 223 519V352Q400 270 520 140Q590 60 644 0H763Z"/></svg></span></div>
<div class="c" style="left:833px;top:615.44px;width:95px;font-size:21.5px;line-height:24.72px"><span style="display:inline-block;transform:scaleX(0.83)"><svg class="o" viewBox="0 0 1139 1409"><path d="M763 1409H583V311Q470 410 223 519V352Q400 270 520 140Q590 60 644 0H763Z"/></svg>850</span></div>
<div class="c" style="left:927px;top:615.44px;width:20px;font-size:21.5px;line-height:24.72px"><span style="display:inline-block;transform:scaleX(0.83)">2</span></div>
<div class="c" style="left:946px;top:617.19px;width:94px;font-size:17.8px;line-height:20.47px"><span style="display:inline-block;transform:scaleX(0.86)">4788</span></div>
<div class="c" style="left:1040px;top:617.19px;width:68px;font-size:17.8px;line-height:20.47px"><span style="display:inline-block;transform:scaleX(0.905)">28-okt</span></div>
<span class="t" style="left:388.8px;top:641.69px;font-size:21.5px;line-height:24.72px;transform:scaleX(0.83);transform-origin:0 0">Trijntje Visser</span>
<div class="c" style="left:601px;top:641.69px;width:94px;font-size:21.5px;line-height:24.72px"><span style="display:inline-block;transform:scaleX(0.83)">3500</span></div>
<div class="c" style="left:946px;top:643.44px;width:94px;font-size:17.8px;line-height:20.47px"><span style="display:inline-block;transform:scaleX(0.86)">3500</span></div>
<span class="t" style="left:388.8px;top:667.94px;font-size:21.5px;line-height:24.72px;transform:scaleX(0.83);transform-origin:0 0">Wolmet Teerhuis</span>
<div class="c" style="left:601px;top:667.94px;width:94px;font-size:21.5px;line-height:24.72px"><span style="display:inline-block;transform:scaleX(0.83)"><svg class="o" viewBox="0 0 1139 1409"><path d="M763 1409H583V311Q470 410 223 519V352Q400 270 520 140Q590 60 644 0H763Z"/></svg>8<svg class="o" viewBox="0 0 1139 1409"><path d="M763 1409H583V311Q470 410 223 519V352Q400 270 520 140Q590 60 644 0H763Z"/></svg>7</span></div>
<div class="c" style="left:694px;top:667.94px;width:24px;font-size:21.5px;line-height:24.72px"><span style="display:inline-block;transform:scaleX(0.83)"><svg class="o" viewBox="0 0 1139 1409"><path d="M763 1409H583V311Q470 410 223 519V352Q400 270 520 140Q590 60 644 0H763Z"/></svg></span></div>
<div class="c" style="left:717px;top:667.94px;width:95px;font-size:21.5px;line-height:24.72px"><span style="display:inline-block;transform:scaleX(0.83)"><svg class="o" viewBox="0 0 1139 1409"><path d="M763 1409H583V311Q470 410 223 519V352Q400 270 520 140Q590 60 644 0H763Z"/></svg>7<svg class="o" viewBox="0 0 1139 1409"><path d="M763 1409H583V311Q470 410 223 519V352Q400 270 520 140Q590 60 644 0H763Z"/></svg><svg class="o" viewBox="0 0 1139 1409"><path d="M763 1409H583V311Q470 410 223 519V352Q400 270 520 140Q590 60 644 0H763Z"/></svg></span></div>
<div class="c" style="left:833px;top:667.94px;width:95px;font-size:21.5px;line-height:24.72px"><span style="display:inline-block;transform:scaleX(0.83)"><svg class="o" viewBox="0 0 1139 1409"><path d="M763 1409H583V311Q470 410 223 519V352Q400 270 520 140Q590 60 644 0H763Z"/></svg>576</span></div>
<div class="c" style="left:927px;top:667.94px;width:20px;font-size:21.5px;line-height:24.72px"><span style="display:inline-block;transform:scaleX(0.83)"><svg class="o" viewBox="0 0 1139 1409"><path d="M763 1409H583V311Q470 410 223 519V352Q400 270 520 140Q590 60 644 0H763Z"/></svg></span></div>
<div class="c" style="left:946px;top:669.69px;width:94px;font-size:17.8px;line-height:20.47px;color:#4a0000"><span style="display:inline-block;transform:scaleX(0.86)">5<svg class="o" viewBox="0 0 1139 1409"><path d="M763 1409H583V311Q470 410 223 519V352Q400 270 520 140Q590 60 644 0H763Z"/></svg>04</span></div>
<div class="c" style="left:1040px;top:669.69px;width:68px;font-size:17.8px;line-height:20.47px"><span style="display:inline-block;transform:scaleX(0.905)">2-dec</span></div>
<span class="t" style="left:388.8px;top:694.19px;font-size:21.5px;line-height:24.72px;transform:scaleX(0.83);transform-origin:0 0">Yvonne Zondervan</span>
<div class="c" style="left:601px;top:694.19px;width:94px;font-size:21.5px;line-height:24.72px"><span style="display:inline-block;transform:scaleX(0.83)"><svg class="o" viewBox="0 0 1139 1409"><path d="M763 1409H583V311Q470 410 223 519V352Q400 270 520 140Q590 60 644 0H763Z"/></svg>423</span></div>
<div class="c" style="left:717px;top:694.19px;width:95px;font-size:21.5px;line-height:24.72px"><span style="display:inline-block;transform:scaleX(0.83)"><svg class="o" viewBox="0 0 1139 1409"><path d="M763 1409H583V311Q470 410 223 519V352Q400 270 520 140Q590 60 644 0H763Z"/></svg>7<svg class="o" viewBox="0 0 1139 1409"><path d="M763 1409H583V311Q470 410 223 519V352Q400 270 520 140Q590 60 644 0H763Z"/></svg><svg class="o" viewBox="0 0 1139 1409"><path d="M763 1409H583V311Q470 410 223 519V352Q400 270 520 140Q590 60 644 0H763Z"/></svg></span></div>
<div class="c" style="left:833px;top:694.19px;width:95px;font-size:21.5px;line-height:24.72px"><span style="display:inline-block;transform:scaleX(0.83)"><svg class="o" viewBox="0 0 1139 1409"><path d="M763 1409H583V311Q470 410 223 519V352Q400 270 520 140Q590 60 644 0H763Z"/></svg>246</span></div>
<div class="c" style="left:946px;top:695.94px;width:94px;font-size:17.8px;line-height:20.47px"><span style="display:inline-block;transform:scaleX(0.86)">4380</span></div>
</body></html>
